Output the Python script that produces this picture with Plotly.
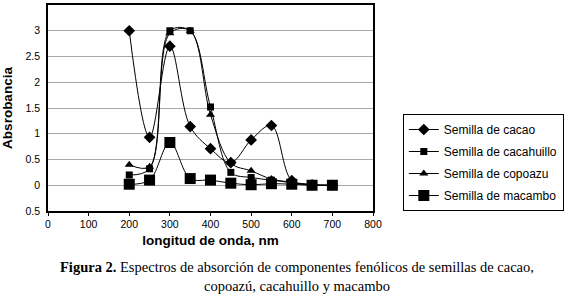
import plotly.graph_objects as go

wavelength = [200, 250, 300, 350, 400, 450, 500, 550, 600, 650, 700]
cacao = [3.0, 0.93, 2.7, 1.14, 0.71, 0.44, 0.88, 1.16, 0.09, 0.01, 0.0]
cacahuillo = [0.2, 0.32, 3.0, 3.0, 1.52, 0.25, 0.15, 0.1, 0.05, 0.01, 0.0]
copoazu = [0.4, 0.36, 2.95, 3.0, 1.37, 0.43, 0.28, 0.12, 0.06, 0.01, 0.0]
macambo = [0.02, 0.1, 0.83, 0.13, 0.1, 0.04, 0.01, 0.03, 0.02, 0.0, 0.0]

series_names = ["Semilla de cacao", "Semilla de cacahuillo", "Semilla de copoazu", "Semilla de macambo"]
y_tickvals = [-0.5, 0, 0.5, 1, 1.5, 2, 2.5, 3]
y_ticktext = ["0.5", "0", "0.5", "1", "1.5", "2", "2.5", "3"]
x_tickvals = [0, 100, 200, 300, 400, 500, 600, 700, 800]

series = [cacao, cacahuillo, copoazu, macambo]
symbols = ["diamond", "square", "triangle-up", "square"]
sizes = [9, 7, 8, 11]

fig = go.Figure()
for name, ys, sym, sz in zip(series_names, series, symbols, sizes):
    fig.add_trace(go.Scatter(
        x=wavelength, y=ys, name=name, legendgroup=name, mode="lines+markers",
        line=dict(color="black", width=1, shape="spline", smoothing=1),
        marker=dict(symbol=sym, size=sz, color="black"),
    ))

fig.update_layout(
    width=569, height=298,
    margin=dict(l=48, r=194, t=5, b=87),
    paper_bgcolor="white", plot_bgcolor="white",
    font=dict(family="Arial, Liberation Sans", size=10.5, color="black"),
    showlegend=True,
    legend=dict(x=(405 - 48) / 327, y=(211 - 114) / 206, xanchor="left", yanchor="top",
                bordercolor="black", borderwidth=1, bgcolor="white",
                font=dict(size=12, family="Arial, Liberation Sans"),
                tracegroupgap=3, itemwidth=30),
    xaxis=dict(range=[0, 800], tickvals=x_tickvals, showgrid=False, automargin=False,
               showline=True, linecolor="black", linewidth=1.5, mirror=True,
               ticks="outside", ticklen=3, tickcolor="black",
               zeroline=False,
               title=dict(text="<b>longitud de onda, nm</b>", font=dict(size=13.5), standoff=6)),
    yaxis=dict(range=[-0.5, 3.5], tickvals=y_tickvals, ticktext=y_ticktext, automargin=False,
               showgrid=True, gridcolor="#a8a8a8", gridwidth=1,
               showline=True, linecolor="black", linewidth=1.5, mirror=True,
               ticks="outside", ticklen=4, tickcolor="rgba(0,0,0,0)", zeroline=False,
               title=dict(text="<b>Absrobancia</b>", font=dict(size=13.5), standoff=10)),
)

fig.add_annotation(
    text="<b>Figura 2.</b> Espectros de absorción de componentes fenólicos de semillas de cacao,<br>copoazú, cacahuillo y macambo",
    xref="paper", yref="paper", x=(299 - 48) / 327, y=(211 - 257) / 206,
    xanchor="center", yanchor="top", showarrow=False, align="center",
    font=dict(family="Liberation Serif, Times New Roman", size=14.5, color="black"),
)

fig.write_html("out.html", config={"displayModeBar": False},
               post_script="document.body.style.margin='0';")
